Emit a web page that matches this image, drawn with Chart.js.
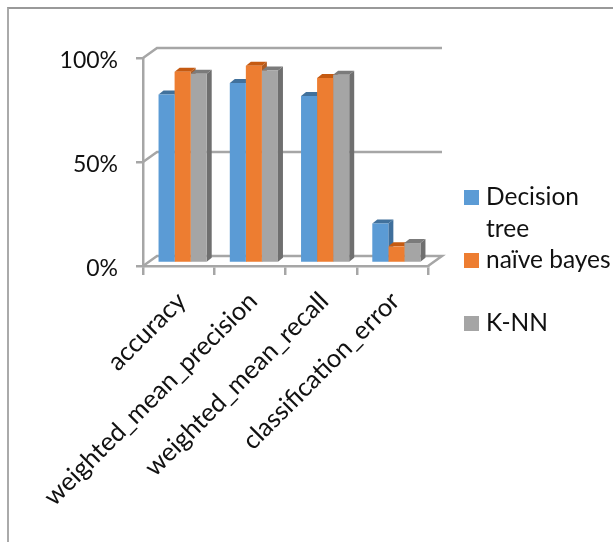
<!DOCTYPE html>
<html>
<head>
<meta charset="utf-8">
<title>Classifier comparison</title>
<script src="https://cdn.jsdelivr.net/npm/chart.js@4"></script>
<style>
    html, body { margin: 0; padding: 0; background: #fff; overflow: hidden; }
    #wrap { position: relative; width: 613px; height: 542px; }
    #frame { position: absolute; left: 7px; top: 7px; right: 0; bottom: 0;
             border-left: 2px solid #aaa; border-top: 2px solid #999; }
    #plot { position: absolute; left: 0; top: 0; }
    .key { position: absolute; left: 486px; font: 24.5px/32px Lato, sans-serif; color: #111; white-space: nowrap; }
    .swatch { position: absolute; left: 464px; width: 15px; height: 15px; }
</style>
</head>
<body>
<div id="wrap">
    <div id="frame"></div>
    <canvas id="plot" width="613" height="542"></canvas>
</div>
<script>
const categories = ['accuracy', 'weighted_mean_precision', 'weighted_mean_recall', 'classification_error'];
const decisionTree = [0.81, 0.865, 0.803, 0.19];
const naiveBayes = [0.92, 0.948, 0.89, 0.08];
const knn = [0.91, 0.925, 0.905, 0.096];
const tickValues = [0, 0.5, 1];

const seriesNames = [['Decision', 'tree'], ['naïve bayes'], ['K-NN']];
const seriesColors = ['#5b9bd5', '#ed7d31', '#a5a5a5'];
const sideColors = ['#3f6f9c', '#ae5a21', '#6f6f6f'];
const topColors = ['#41719c', '#c55a11', '#7b7b7b'];

const axisColor = '#a6a6a6';
const barShift = { x: 4, y: -3 };    // bars stand a little behind the front plane
const barDepth = { x: 5, y: -4 };
const wallDepth = { x: 14, y: -10 };

// back wall lines and floor, placed from the axis scales;
// top and side faces of the bars go down before any front face
const wallPlugin = {
    id: 'walls',
    beforeDatasetsDraw(chart) {
        const { ctx, scales } = chart;
        const left = scales.x.left, right = scales.x.right;
        ctx.save();
        ctx.strokeStyle = axisColor;
        ctx.lineWidth = 2.5;
        tickValues.forEach(v => {
            const y = scales.y.getPixelForValue(v);
            ctx.beginPath();
            ctx.moveTo(left, y);
            ctx.lineTo(left + wallDepth.x, y + wallDepth.y);
            ctx.lineTo(right + wallDepth.x, y + wallDepth.y);
            if (v === 0) ctx.lineTo(right, y);
            ctx.stroke();
        });
        ctx.restore();

        ctx.save();
        ctx.translate(barShift.x, barShift.y);
        seriesValues.forEach((values, i) => {
            chart.getDatasetMeta(i).data.forEach(bar => {
                const l = bar.x - bar.width / 2, r = bar.x + bar.width / 2;
                const t = bar.y, b = bar.base;
                ctx.fillStyle = sideColors[i];
                ctx.beginPath();
                ctx.moveTo(r, t);
                ctx.lineTo(r + barDepth.x, t + barDepth.y);
                ctx.lineTo(r + barDepth.x, b + barDepth.y);
                ctx.lineTo(r, b);
                ctx.closePath();
                ctx.fill();
                ctx.fillStyle = topColors[i];
                ctx.beginPath();
                ctx.moveTo(l, t);
                ctx.lineTo(l + barDepth.x, t + barDepth.y);
                ctx.lineTo(r + barDepth.x, t + barDepth.y);
                ctx.lineTo(r, t);
                ctx.closePath();
                ctx.fill();
            });
        });
    },
    afterDatasetsDraw(chart) {
        chart.ctx.restore();
    }
};

const seriesValues = [decisionTree, naiveBayes, knn];

new Chart(document.getElementById('plot'), {
    type: 'bar',
    plugins: [wallPlugin],
    data: {
        labels: categories,
        datasets: seriesValues.map((values, i) => ({
            label: seriesNames[i].join(' '),
            data: values,
            backgroundColor: seriesColors[i],
            categoryPercentage: 0.676,
            barPercentage: 1
        }))
    },
    options: {
        responsive: false,
        animation: false,
        layout: { padding: { top: 58, right: 185, left: 0, bottom: 0 } },
        plugins: { legend: { display: false }, tooltip: { enabled: false } },
        scales: {
            x: {
                afterFit: scale => { scale.height = 276; },
                border: { color: axisColor, width: 2.5 },
                grid: { color: axisColor, lineWidth: 2.5, drawOnChartArea: false, tickLength: 9 },
                ticks: {
                    autoSkip: false,
                    minRotation: 45,
                    maxRotation: 45,
                    color: '#111',
                    padding: 11,
                    labelOffset: 3,
                    font: { family: 'Lato', size: 25.5 }
                }
            },
            y: {
                min: 0,
                max: 1,
                afterFit: scale => { scale.width = 143; },
                afterBuildTicks: scale => { scale.ticks = tickValues.map(value => ({ value })); },
                border: { color: axisColor, width: 2.5 },
                grid: { color: axisColor, lineWidth: 2.5, drawOnChartArea: false, tickLength: 7 },
                ticks: {
                    color: '#111',
                    padding: 18,
                    // the empty first line nudges the text down to sit on its tick
                    font: { family: 'Lato', size: 23, lineHeight: '5px' },
                    callback: v => ['', Math.round(v * 100) + '%']
                }
            }
        }
    }
});

// legend, one entry per series
const wrap = document.getElementById('wrap');
const keyTops = [190, 253, 316];
seriesNames.forEach((lines, i) => {
    const swatch = document.createElement('div');
    swatch.className = 'swatch';
    swatch.style.top = keyTops[i] + 'px';
    swatch.style.background = seriesColors[i];
    wrap.appendChild(swatch);
    lines.forEach((line, n) => {
        const key = document.createElement('div');
        key.className = 'key';
        key.style.top = (keyTops[i] - 10 + n * 32) + 'px';
        key.textContent = line;
        wrap.appendChild(key);
    });
});
</script>
</body>
</html>
